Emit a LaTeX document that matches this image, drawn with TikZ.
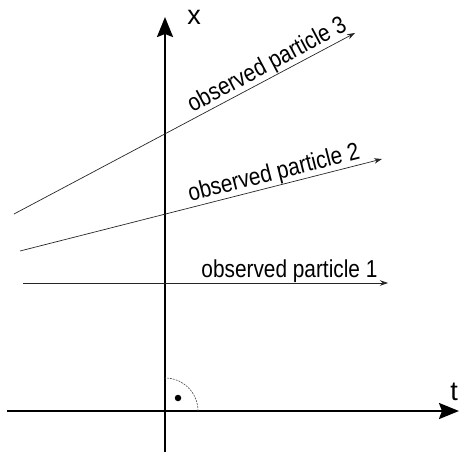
\documentclass[tikz,border=0pt]{standalone}
\usepackage{fontspec}
\usepackage{graphicx}
\setmainfont{Liberation Sans}
\usetikzlibrary{arrows.meta}
\newcommand{\condensed}[1]{\scalebox{0.85}[1]{#1}}
\begin{document}
\begin{tikzpicture}[x=1pt,y=-1pt,
  axis/.style={line width=2.3pt,-{Stealth[length=20pt,width=16pt,inset=3pt]}},
  track/.style={line width=0.7pt,draw=black!85,-{Stealth[length=8pt,width=5.5pt]}},
  tracklabel/.style={font=\fontsize{24.5}{28}\selectfont,inner sep=0.5pt,above,sloped},
  axislabel/.style={font=\fontsize{27}{30}\selectfont,inner sep=0pt},
  rightarc/.style={line width=0.6pt,draw=black!70,dash pattern=on 2pt off 1pt}]
\useasboundingbox (0,0) rectangle (460,452);
% axes
\coordinate (o) at (165,411);
\coordinate (tstart) at (7,411);
\coordinate (tend) at (459,411);
\coordinate (xstart) at (165,452);
\coordinate (xend) at (165,17);
\draw[axis] (tstart) -- (tend);
\draw[axis] (xstart) -- (xend);
\node[axislabel] (tl) at (454,392) {t};
\node[axislabel] (xl) at (194,17) {x};
% right angle mark
\draw[rightarc] ([xshift=33pt]o) arc[start angle=0,end angle=90,radius=33pt];
\node[circle,fill=black,inner sep=0pt,minimum size=6.5pt] (dot) at (178,398) {};
% particle world lines
\coordinate (p1s) at (23,283);
\coordinate (p1e) at (388,283);
\coordinate (p2s) at (20,251);
\coordinate (p2e) at (382,159);
\coordinate (p3s) at (14,214);
\coordinate (p3e) at (355,33);
\draw[track] (p1s) -- node[tracklabel,pos=0.73] (l1) {\condensed{observed particle 1}} (p1e);
\draw[track] (p2s) -- node[tracklabel,pos=0.71] (l2) {\condensed{observed particle 2}} (p2e);
\draw[track] (p3s) -- node[tracklabel,pos=0.76] (l3) {\condensed{observed particle 3}} (p3e);
\end{tikzpicture}
\end{document}
